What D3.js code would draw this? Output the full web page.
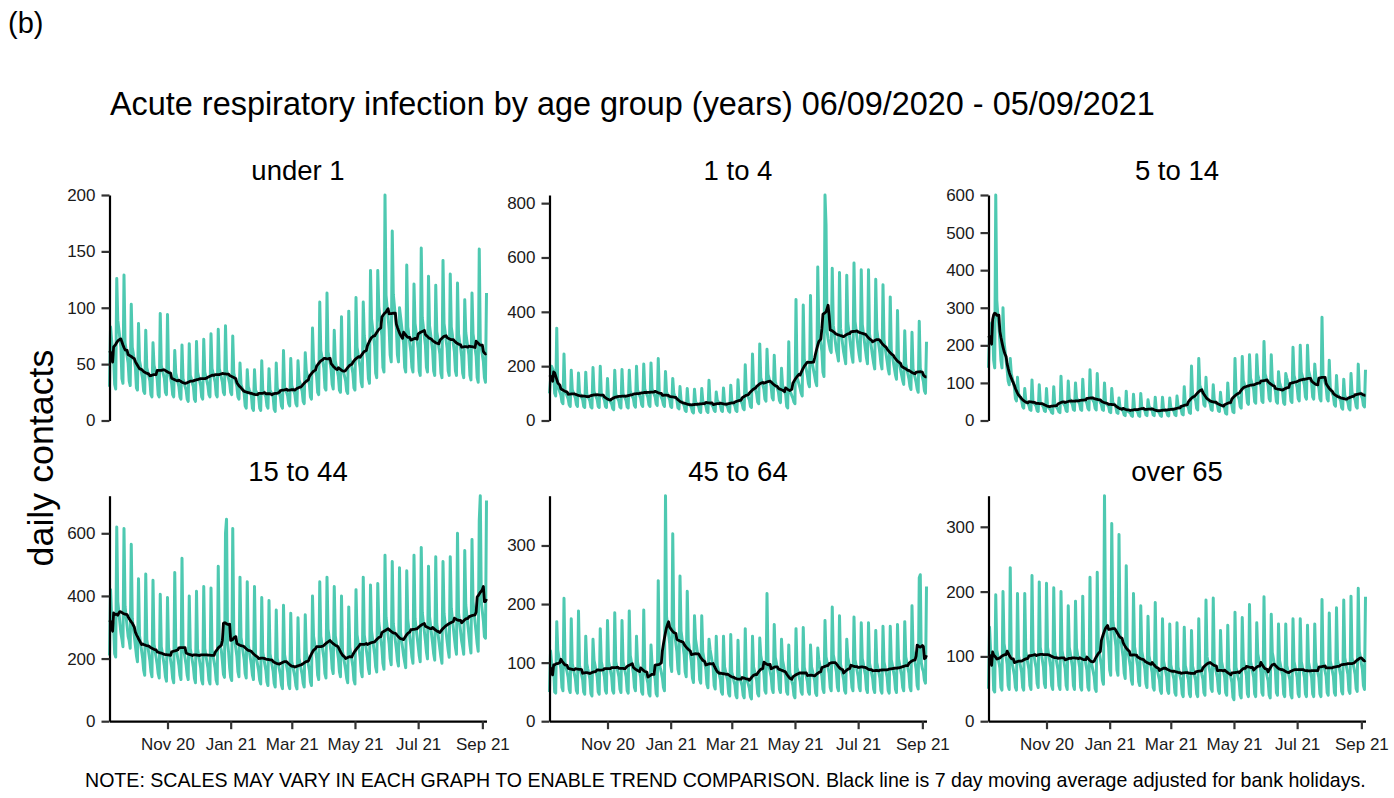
<!DOCTYPE html>
<html><head><meta charset="utf-8">
<script src="https://cdn.jsdelivr.net/npm/d3@7"></script>
<style>body{margin:0;background:#fff}svg{display:block}text{font-family:"Liberation Sans",Arial,sans-serif}</style>
</head><body><svg id="c" width="1394" height="798"></svg>
<script>
const startDate = "2020-09-06";
const groups = ["under 1","1 to 4","5 to 14","15 to 44","45 to 64","over 65"];
const titleText = "Acute respiratory infection by age group (years) 06/09/2020 - 05/09/2021";
const noteText = "NOTE: SCALES MAY VARY IN EACH GRAPH TO ENABLE TREND COMPARISON. Black line is 7 day moving average adjusted for bank holidays.";
const yLabel = "daily contacts";
const tagText = "(b)";
const xTickLabels = ["Nov 20","Jan 21","Mar 21","May 21","Jul 21","Sep 21"];
const xTickDates = ["2020-11-01","2021-01-01","2021-03-01","2021-05-01","2021-07-01","2021-09-01"];
const yTicks = [[0,50,100,150,200],[0,200,400,600,800],[0,100,200,300,400,500,600],[0,200,400,600],[0,100,200,300],[0,100,200,300]];

const under1 = [
30,83,72,62,55,32,28,
126,89,81,73,65,37,33,
129,69,63,57,51,35,31,
103,65,59,53,47,29,27,
86,53,48,42,37,26,24,
80,47,43,39,35,23,21,
69,49,45,41,37,23,21,
95,49,45,41,37,25,23,
94,45,41,37,33,23,21,
62,42,38,34,30,21,19,
67,37,34,30,27,19,17,
68,40,37,33,30,19,17,
70,43,39,35,31,21,19,
72,43,39,35,31,23,21,
77,46,42,38,34,23,21,
81,46,42,38,34,25,23,
84,45,41,37,33,25,23,
75,42,38,34,30,21,19,
51,32,29,27,24,13,11,
45,30,27,25,22,11,9,
45,27,25,23,21,11,9,
53,27,25,23,21,13,11,
46,27,25,23,21,10,8,
51,29,26,24,21,13,11,
62,30,27,25,22,15,13,
55,31,28,26,23,15,13,
53,36,33,29,26,17,15,
60,44,40,36,32,21,19,
82,53,48,44,39,25,23,
105,62,57,52,46,29,27,
113,61,56,51,45,32,28,
80,53,48,44,39,27,25,
92,47,43,39,35,26,24,
97,56,51,47,42,29,27,
109,65,59,53,47,34,30,
105,75,68,62,55,37,33,
133,90,82,74,66,42,38,
133,101,92,84,75,47,43,
200,111,101,91,81,58,52,
168,112,102,92,82,58,52,
100,92,84,76,68,47,43,
138,83,76,68,61,47,43,
121,86,79,71,64,44,40,
153,91,83,75,67,47,43,
128,84,77,69,62,44,40,
120,79,73,65,59,42,38,
142,86,79,71,64,44,40,
130,83,76,68,61,44,40,
122,77,70,64,57,42,38,
107,78,71,65,58,40,36,
113,77,70,64,57,38,34,
152,70,64,58,52,38,34,
113];

const age1to4 = [
100,150,200,190,180,100,90,
340,127,116,105,94,68,62,
245,110,100,90,80,58,52,
185,113,103,93,83,58,52,
175,102,93,85,76,52,48,
178,98,89,81,72,50,46,
195,106,97,87,78,52,48,
200,101,92,84,75,52,48,
155,82,75,68,61,44,40,
185,97,88,80,71,50,46,
188,99,90,82,73,50,46,
185,108,99,89,80,55,49,
200,112,102,92,82,58,52,
208,116,106,96,86,58,52,
212,117,107,97,87,61,55,
228,104,95,85,76,58,52,
180,105,96,86,77,52,48,
155,100,91,83,74,47,43,
125,75,68,62,55,37,33,
118,66,60,54,48,32,28,
115,69,63,57,51,34,30,
118,72,66,60,54,34,30,
148,68,62,56,50,37,33,
105,75,68,62,55,37,33,
120,67,61,55,49,35,31,
130,74,67,61,54,37,33,
150,84,77,69,62,44,40,
205,104,95,85,76,52,48,
245,134,122,110,98,68,62,
282,158,144,130,116,79,71,
262,170,155,141,126,84,76,
240,143,130,118,105,74,66,
192,130,119,107,96,52,46,
290,110,101,91,82,68,62,
445,160,146,132,118,100,90,
425,226,206,186,166,136,124,
460,223,204,184,165,142,128,
565,344,314,284,254,178,162,
830,720,330,300,280,260,250,
560,351,320,290,259,241,219,
545,340,311,281,252,231,209,
535,361,330,298,267,236,214,
580,365,333,301,269,241,219,
555,354,323,293,262,231,209,
555,319,291,263,235,210,190,
520,335,306,276,247,210,190,
500,296,270,244,218,189,171,
455,260,237,215,192,168,152,
405,225,206,186,167,147,133,
330,208,190,172,154,126,114,
325,190,173,157,140,116,104,
365,193,176,160,143,110,100,
290];

const age5to14 = [
140,230,250,260,240,160,140,
600,320,280,250,210,160,140,
300,210,185,160,135,105,95,
165,125,112,100,88,58,52,
115,72,65,59,53,37,33,
85,54,49,45,40,29,27,
108,50,46,42,38,26,24,
95,48,44,40,36,26,24,
85,38,35,31,28,21,19,
90,42,38,34,30,23,21,
118,52,47,43,38,26,24,
105,59,54,48,43,29,27,
100,60,55,49,44,29,27,
110,62,57,51,46,32,28,
135,64,59,53,48,32,28,
125,59,54,48,43,29,27,
100,49,45,41,37,23,21,
85,48,44,40,36,21,19,
60,35,32,28,25,15,13,
78,26,24,22,20,13,11,
70,31,28,26,23,13,11,
72,36,33,29,26,15,13,
55,37,34,30,27,15,13,
62,28,25,23,20,13,11,
62,31,28,26,23,14,12,
60,35,32,28,25,15,13,
65,40,37,33,30,17,15,
90,47,43,39,35,21,19,
145,71,65,59,53,32,28,
165,94,86,78,70,42,38,
115,61,56,50,45,29,27,
95,55,50,46,41,26,24,
75,45,41,37,33,19,17,
100,55,50,46,41,23,21,
165,77,70,64,57,37,33,
170,106,97,87,78,47,43,
175,113,103,93,83,50,46,
175,122,111,101,90,52,48,
210,125,114,104,93,58,52,
175,107,98,88,79,50,46,
130,101,92,84,75,47,43,
125,113,103,93,83,52,48,
195,120,109,99,88,58,52,
200,129,118,106,95,63,57,
200,133,122,110,99,63,57,
150,116,106,96,86,58,52,
275,121,110,100,89,58,52,
160,87,80,72,65,42,38,
120,71,65,59,53,34,30,
110,66,60,54,48,32,28,
125,75,68,62,55,37,33,
150,79,72,66,59,40,36,
135];

const age15to44 = [
210,420,340,320,300,215,205,
620,382,349,315,282,262,238,
615,367,335,303,271,257,233,
565,327,298,270,241,210,190,
455,273,249,225,201,163,147,
470,261,238,216,193,158,142,
450,246,225,203,182,152,138,
405,238,217,197,176,142,128,
395,235,214,194,173,137,123,
475,242,221,199,179,147,133,
520,243,222,200,179,147,133,
400,232,212,192,172,137,123,
415,231,211,191,171,131,119,
430,231,211,191,171,131,119,
425,229,209,189,169,131,119,
495,260,240,225,190,150,140,
600,645,250,220,170,140,130,
615,281,256,232,207,158,142,
460,267,244,220,197,152,138,
445,244,223,201,180,147,133,
430,217,198,180,161,131,119,
395,220,201,181,162,126,114,
385,215,196,178,159,121,109,
355,201,184,166,149,116,104,
370,213,194,176,157,116,104,
345,191,174,158,141,113,103,
330,201,184,166,149,121,109,
340,220,201,181,162,126,114,
400,271,248,224,201,147,133,
445,271,248,224,201,152,138,
460,294,269,243,218,168,152,
430,273,249,225,201,158,142,
400,223,204,184,165,137,123,
365,236,215,195,174,131,119,
420,276,252,228,204,158,142,
460,275,251,227,203,168,152,
435,288,263,238,213,173,157,
440,316,289,261,234,184,166,
530,332,303,275,246,200,180,
510,311,284,257,230,194,176,
490,283,258,234,209,189,171,
480,323,295,267,239,205,185,
530,327,298,270,241,210,190,
555,347,317,287,257,221,199,
495,334,305,276,247,215,195,
525,311,284,257,230,205,185,
510,344,314,284,254,226,204,
525,360,329,297,266,236,214,
600,346,316,286,256,236,214,
545,371,339,307,275,242,218,
580,382,349,315,282,247,223,
640,720,380,350,320,270,265,
705];

const age45to64 = [
50,120,100,95,90,50,48,
170,121,110,100,89,58,52,
210,101,92,84,75,55,49,
175,98,89,81,72,52,48,
188,95,87,79,71,50,46,
145,98,89,81,72,47,43,
140,104,95,85,76,50,46,
158,102,93,85,76,52,48,
172,102,93,85,76,52,48,
185,102,93,85,76,55,49,
172,102,93,85,76,52,48,
188,112,102,92,82,58,52,
145,101,92,84,75,50,46,
190,89,81,73,65,47,43,
130,98,89,81,72,47,43,
240,100,91,83,74,58,52,
385,179,164,148,133,95,85,
320,161,147,133,119,89,81,
248,154,141,127,114,84,76,
222,137,125,113,101,74,66,
180,140,128,116,104,71,65,
180,118,108,98,88,63,57,
140,123,112,102,91,61,55,
145,95,87,79,71,50,46,
145,93,85,77,69,47,43,
148,84,77,69,62,44,40,
138,80,73,67,60,44,40,
158,76,69,63,56,42,38,
145,93,85,77,69,47,43,
142,112,102,92,82,52,48,
218,102,93,85,76,55,49,
165,109,100,90,81,55,49,
140,104,95,85,76,50,46,
130,83,76,68,61,44,40,
158,92,84,76,68,50,46,
160,92,84,76,68,50,46,
130,93,85,77,69,48,44,
125,105,96,86,77,55,49,
172,110,101,91,82,58,52,
195,114,104,94,84,58,52,
180,97,88,80,71,52,48,
140,109,100,90,81,58,52,
178,105,96,86,77,58,52,
168,107,98,88,79,55,49,
168,99,90,82,73,55,49,
155,100,91,83,74,52,48,
162,101,92,84,75,52,48,
162,105,96,86,77,55,49,
165,106,97,87,78,58,52,
170,110,101,91,82,58,52,
197,121,110,100,89,61,55,
245,250,100,90,85,70,65,
230];

const over65 = [
50,145,110,105,100,48,45,
195,110,101,91,82,52,48,
200,120,109,99,88,55,49,
237,97,88,80,71,52,48,
197,101,92,84,75,52,48,
197,108,99,89,80,55,49,
225,110,101,91,82,58,52,
215,114,104,94,84,58,52,
213,114,104,94,84,55,49,
206,108,99,89,80,55,49,
200,109,100,90,81,55,49,
178,114,104,94,84,55,49,
185,113,103,93,83,52,48,
193,107,98,88,79,52,48,
222,93,85,77,69,50,46,
230,116,106,96,86,63,57,
348,154,141,127,114,79,71,
305,156,143,129,116,79,71,
288,135,123,111,99,74,66,
240,114,104,94,84,63,57,
197,115,105,95,85,61,55,
178,108,99,89,80,58,52,
162,101,92,84,75,52,48,
183,86,79,71,64,47,43,
158,93,85,77,69,47,43,
150,87,80,72,65,44,40,
152,84,77,69,62,42,38,
145,86,79,71,64,42,38,
140,85,78,70,63,42,38,
158,87,80,72,65,44,40,
187,100,91,83,74,50,46,
190,91,83,75,67,47,43,
140,92,84,76,68,44,40,
148,82,75,67,60,37,33,
168,83,76,68,61,40,36,
160,95,87,79,71,42,38,
180,92,84,76,68,42,38,
152,104,95,85,76,44,40,
192,84,77,69,62,40,36,
165,106,97,87,78,44,40,
150,94,86,78,70,42,38,
150,86,79,71,64,40,36,
158,92,84,76,68,42,38,
158,92,84,76,68,42,38,
148,91,83,75,67,42,38,
150,91,83,75,67,42,38,
188,93,85,77,69,44,40,
167,93,85,77,69,44,40,
175,95,87,79,71,46,42,
187,98,89,81,72,47,43,
193,98,89,81,72,50,46,
205,108,99,89,80,55,49,
192];

const series = [under1, age1to4, age5to14, age15to44, age45to64, over65];

const TEAL = "#4ec9b1";
const svg = d3.select("#c");
const FONT = '"Liberation Sans", Arial, sans-serif';
const colLeft = [109.5, 549.5, 988.5], panelW = 377;
const rowTop = [195, 495.7], panelH = 225.5;
const parse = d3.utcParse("%Y-%m-%d");
const t0 = parse(startDate);

function ma7(v){
  return v.map((_, i) => {
    const lo = Math.max(0, i - 3), hi = Math.min(v.length - 1, i + 3);
    return d3.mean(v.slice(lo, hi + 1));
  });
}
function fitWidth(sel, w){
  const l = sel.node().getComputedTextLength();
  const fs = parseFloat(sel.attr("font-size"));
  if (l > 0) sel.attr("font-size", fs * w / l);
}

series.forEach((vals, p) => {
  const col = p % 3, row = Math.floor(p / 3);
  const x0 = colLeft[col], y0 = rowTop[row];
  const dates = vals.map((_, i) => d3.utcDay.offset(t0, i));
  const x = d3.scaleUtc().domain([dates[0], dates[dates.length - 1]]).range([x0, x0 + panelW]);
  const y = d3.scaleLinear().domain([0, d3.max(vals)]).range([y0 + panelH, y0]);
  const g = svg.append("g");
  const line = d3.line().x((d, i) => x(dates[i])).y(d => y(d));

  g.append("path").datum(vals).attr("d", line)
    .attr("fill", "none").attr("stroke", TEAL).attr("stroke-width", 3).attr("stroke-linejoin", "round");
  g.append("path").datum(ma7(vals)).attr("d", line)
    .attr("fill", "none").attr("stroke", "#000").attr("stroke-width", 2.8).attr("stroke-linejoin", "round");

  const ya = d3.axisLeft(y).tickValues(yTicks[p]).tickSize(8).tickPadding(6).tickSizeOuter(0);
  const ga = g.append("g").attr("transform", `translate(${x0},0)`).call(ya);
  ga.select(".domain").attr("stroke", "#000").attr("stroke-width", 2.2);
  ga.selectAll(".tick line").attr("stroke", "#333").attr("stroke-width", 2.2);
  ga.selectAll(".tick text").attr("font-family", FONT).attr("font-size", 17).attr("fill", "#1a1a1a");

  if (row === 1) {
    const xa = d3.axisBottom(x).tickValues(xTickDates.map(parse))
      .tickFormat((d, i) => xTickLabels[i]).tickSize(8).tickPadding(9).tickSizeOuter(0);
    const gx = g.append("g").attr("transform", `translate(0,${y0 + panelH})`).call(xa);
    gx.select(".domain").attr("stroke", "#000").attr("stroke-width", 2.2);
    gx.selectAll(".tick line").attr("stroke", "#333").attr("stroke-width", 2.2);
    gx.selectAll(".tick text").attr("font-family", FONT).attr("font-size", 17).attr("fill", "#1a1a1a");
  }

  svg.append("text").attr("x", x0 + panelW / 2).attr("y", y0 - 15)
    .attr("text-anchor", "middle").attr("font-family", FONT).attr("font-size", 27.5).attr("fill", "#000")
    .text(groups[p]);
});

svg.append("text").attr("x", 8).attr("y", 33).attr("font-family", FONT).attr("font-size", 29).text(tagText);
const tt = svg.append("text").attr("x", 110).attr("y", 115).attr("font-family", FONT).attr("font-size", 28).text(titleText);
fitWidth(tt, 1045);
const yl = svg.append("text").attr("transform", "translate(53,458) rotate(-90)").attr("text-anchor", "middle")
  .attr("font-family", FONT).attr("font-size", 35).text(yLabel);
fitWidth(yl, 217);
const nt = svg.append("text").attr("x", 85).attr("y", 787).attr("font-family", FONT).attr("font-size", 17).text(noteText);
fitWidth(nt, 1281);
</script></body></html>
